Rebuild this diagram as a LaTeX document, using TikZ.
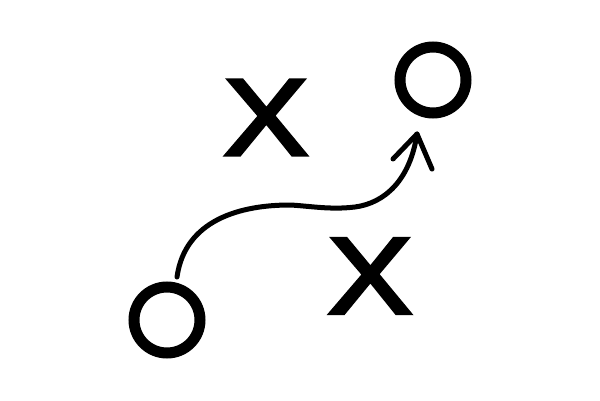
\documentclass[tikz,border=0pt]{standalone}
\usepackage{fontspec}
\newfontfamily\markfont[FakeBold=3]{Liberation Sans}
\usetikzlibrary{calc}

\begin{document}
\begin{tikzpicture}[x=1pt,y=-1pt]
\tikzstyle{player}=[circle,draw,line width=11pt,minimum size=66pt,inner sep=0pt]
\tikzstyle{xmark}=[inner sep=0pt,font=\markfont\fontsize{109}{109}\selectfont]
\tikzstyle{route}=[line width=5pt,line cap=round,line join=round]

\fill[white] (0,0) rectangle (600,401);
\useasboundingbox (0,0) rectangle (600,401);

\node[player] (oA) at (167,320) {};
\node[player] (oB) at (433,80) {};
\node[xmark] (xA) at (266,117.5) {\scalebox{1.17}[1]{X}};
\node[xmark] (xB) at (370,276) {\scalebox{1.17}[1]{X}};

\coordinate (start) at (177,277);
\coordinate (tip) at (417,134);
\draw[route] (start) .. controls (185,220) and (240,205) .. (290,205)
  .. controls (310,206) and (330,210) .. (355,207)
  .. controls (385,203) and (410,180) .. (tip);
\draw[route] ($(tip)+(-24,25)$) -- (tip) -- ($(tip)+(15,35)$);
\end{tikzpicture}
\end{document}
